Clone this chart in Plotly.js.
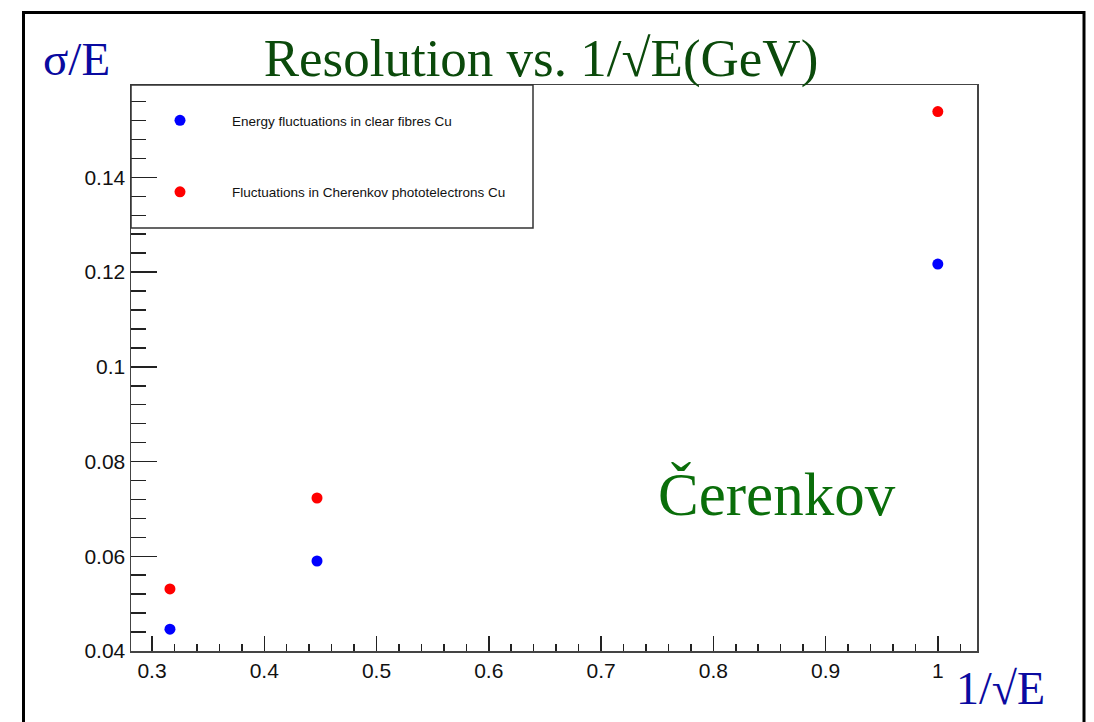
<!DOCTYPE html>
<html>
<head>
<meta charset="utf-8">
<script src="https://cdn.plot.ly/plotly-3.0.1.min.js"></script>
<style>body{margin:0;background:#fff}#chart{width:1094px;height:722px}</style>
</head>
<body>
<div id="chart"></div>
<script>
const invSqrtE = [0.316, 0.447, 1.0];
const clearFibres = [0.0446, 0.0590, 0.1217];
const cherenkovPE = [0.0531, 0.0723, 0.1539];
const seriesNames = ["Energy fluctuations in clear fibres Cu", "Fluctuations in Cherenkov phototelectrons Cu"];

const serif = "Liberation Serif, Times New Roman, serif";
const sans = "Liberation Sans, Arial, Helvetica, sans-serif";

const traces = [
  {x: invSqrtE, y: clearFibres, type: 'scatter', mode: 'markers', name: seriesNames[0],
   legendgroup: 'a', marker: {color: '#0000ff', size: 11}},
  {x: invSqrtE, y: cherenkovPE, type: 'scatter', mode: 'markers', name: seriesNames[1],
   legendgroup: 'b', marker: {color: '#ff0000', size: 11}}
];

const W = 1094, H = 722, L = 131, R = 977, T = 85, B = 651;
const pw = R - L, ph = B - T;
const px = v => (v - L) / pw;
const py = v => (B - v) / ph;

const layout = {
  width: W, height: H,
  margin: {l: L, r: W - R, t: T, b: H - B, pad: 0},
  paper_bgcolor: '#fff', plot_bgcolor: '#fff',
  showlegend: true,
  title: {text: 'Resolution vs. 1/√E(GeV)', font: {family: serif, size: 53, color: '#0b4a0b'},
          xref: 'container', yref: 'container', x: 541 / W, xanchor: 'center', y: 1 - 57 / H, yanchor: 'middle'},
  xaxis: {range: [0.2813, 1.0349], dtick: 0.1, tick0: 0.3, ticks: 'inside', ticklen: 15, tickwidth: 1.5,
          tickcolor: '#222', showline: true, linecolor: '#444', linewidth: 1.5, mirror: true,
          showgrid: false, zeroline: false, tickfont: {family: sans, size: 21, color: '#111'},
          minor: {dtick: 0.02, tick0: 0.3, ticks: 'inside', ticklen: 7, tickwidth: 1.5, tickcolor: '#222', showgrid: false}},
  yaxis: {range: [0.04, 0.1595], dtick: 0.02, tick0: 0.04, ticks: 'inside', ticklen: 26, tickwidth: 1.5,
          tickcolor: '#222', showline: true, linecolor: '#444', linewidth: 1.5, mirror: true,
          showgrid: false, zeroline: false, tickfont: {family: sans, size: 21, color: '#111'},
          minor: {dtick: 0.004, tick0: 0.04, ticks: 'inside', ticklen: 15, tickwidth: 1.5, tickcolor: '#222', showgrid: false}},
  legend: {x: px(128), y: py(105), xanchor: 'left', yanchor: 'top', bgcolor: 'rgba(0,0,0,0)',
           borderwidth: 0, itemwidth: 94, tracegroupgap: 51, traceorder: 'grouped',
           font: {family: sans, size: 13.5, color: '#111'}},
  shapes: [
    {type: 'rect', xref: 'paper', yref: 'paper', x0: 0, x1: px(533), y0: py(228), y1: 1,
     line: {color: '#333', width: 1.5}, fillcolor: 'rgba(0,0,0,0)'},
    {type: 'rect', xref: 'paper', yref: 'paper', x0: px(23.5), x1: px(1084), y0: py(760), y1: py(12.5),
     line: {color: '#000', width: 3}, fillcolor: 'rgba(0,0,0,0)'}
  ],
  annotations: [
    {text: 'σ/E', xref: 'paper', yref: 'paper', x: px(76), y: py(59), xanchor: 'center', yanchor: 'middle',
     showarrow: false, font: {family: serif, size: 47, color: '#0a0aa0'}},
    {text: '1/√E', xref: 'paper', yref: 'paper', x: px(1000), y: py(688), xanchor: 'center', yanchor: 'middle',
     showarrow: false, font: {family: serif, size: 46, color: '#0a0aa0'}},
    {text: 'Čerenkov', xref: 'paper', yref: 'paper', x: px(777), y: py(494), xanchor: 'center', yanchor: 'middle',
     showarrow: false, font: {family: serif, size: 61, color: '#0a6e0a'}}
  ]
};

Plotly.newPlot('chart', traces, layout, {displayModeBar: false, staticPlot: true});
</script>
</body>
</html>
